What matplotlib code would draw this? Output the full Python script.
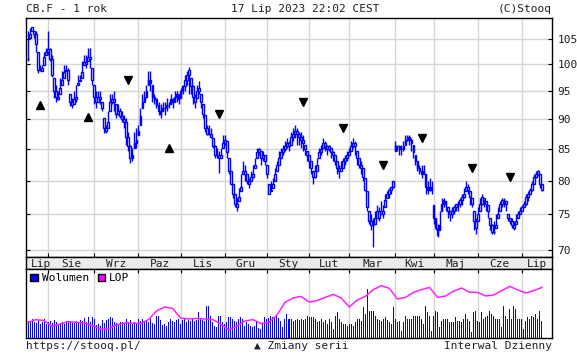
import matplotlib
matplotlib.use("Agg")
import matplotlib.pyplot as plt
import matplotlib.transforms as mtransforms
import numpy as np
import pandas as pd
from matplotlib.patches import Patch
from matplotlib.ticker import FixedLocator, NullLocator

# %%

# trading days shown on the chart (one year, exchange holidays removed)
holidays = ["2022-12-26", "2023-01-02", "2023-04-07", "2023-05-01"]
dates = pd.bdate_range("2022-07-18", "2023-07-17")
dates = dates[~dates.isin(pd.to_datetime(holidays))]

# daily closes
closes = [
    101, 106, 107.5, 106, 104, 99, 99, 98.8, 101.5, 102.5,
    103, 101, 98, 95, 94, 93.5, 95.5, 97, 98.5, 99,
    97, 93, 92.5, 93.5, 94, 96.5, 97, 98.5, 100.5, 100,
    101.5, 101, 97, 94, 93, 94, 93.5, 92, 88.5, 88,
    89.5, 93, 93.5, 93, 91, 91.5, 90.5, 90, 89.5, 87,
    85.5, 83.5, 84, 86, 86.5, 88, 90.5, 93, 94, 95,
    97, 96.5, 94, 93.5, 92.5, 91.5, 91, 92, 92, 92.5,
    92.5, 93.5, 93, 94, 94.5, 93.5, 95, 96, 97, 98,
    99, 96, 94, 93, 95, 95.5, 93, 91, 88.5, 87.5,
    87.5, 87, 85.5, 84, 84, 83.5, 84, 86, 86.5, 84.5,
    81.5, 79.5, 78, 76.5, 76, 77.5, 79, 81.5, 81, 80,
    79.5, 80.5, 81, 82.5, 84.5, 85, 83.5, 84, 83, 81,
    78, 78.5, 79.5, 81, 82.5, 83.5, 84.5, 85, 85.5, 86,
    85.5, 87, 87.5, 88, 87.5, 87, 86.5, 86, 85, 84,
    83, 82, 80.5, 81.5, 82.5, 84.5, 85, 86, 85.5, 85,
    85.5, 84.5, 84, 83, 82, 81.5, 82, 83, 83.5, 84,
    84.5, 85.5, 86, 85.5, 83.5, 82.5, 82, 80.5, 78.5, 76,
    74, 73.5, 73.5, 74.5, 75.5, 74.5, 75.5, 75, 77, 78,
    78.5, 79, 80, 85.5, 85.5, 85, 85, 85.5, 86.5, 87,
    86.5, 86, 84.5, 83, 82, 81.5, 81, 81.5, 79, 78.5,
    79, 78.5, 74.5, 73, 72, 73.5, 76.5, 77, 76.5, 75.5,
    75, 75.5, 76, 76.5, 76.5, 77, 77.5, 78, 79, 78.5,
    77.5, 76.5, 74, 73, 75, 76.5, 77.5, 77, 76.5, 75.5,
    73.5, 72.5, 72.5, 73.5, 75, 76.5, 77, 77, 76.5, 74.5,
    74, 73.5, 73, 74, 75, 75.5, 76, 76.5, 77.5, 78,
    78.5, 79.5, 80.5, 81, 81.5, 79.5, 78.5,
]

# daily highs and lows
highs = [
    106.6, 107.2, 107.5, 106.6, 106.6, 102.5, 99.9, 99.9, 102.5, 103.2,
    106.6, 103.2, 101.9, 97.4, 96.2, 95.0, 97.4, 98.7, 99.9, 99.9,
    99.3, 94.4, 93.7, 95.0, 96.2, 98.0, 98.0, 100.6, 101.9, 101.9,
    103.2, 103.2, 99.3, 96.2, 95.0, 95.0, 95.0, 93.1, 90.2, 89.1,
    91.4, 94.4, 94.4, 95.0, 92.6, 92.6, 92.0, 91.4, 90.8, 90.2,
    87.9, 85.7, 85.2, 87.9, 88.5, 89.1, 92.0, 94.4, 95.0, 96.2,
    98.7, 98.7, 96.2, 94.4, 93.7, 93.1, 92.6, 93.1, 93.1, 93.7,
    93.1, 94.4, 93.7, 95.0, 95.0, 94.4, 95.6, 96.2, 98.0, 98.7,
    99.6, 97.4, 96.2, 94.4, 96.2, 96.8, 94.4, 92.6, 90.8, 89.1,
    89.1, 88.5, 86.8, 85.7, 85.2, 84.6, 85.2, 87.4, 87.4, 86.3,
    83.6, 81.5, 79.4, 77.9, 77.4, 78.9, 81.0, 83.0, 82.5, 81.0,
    80.4, 81.5, 82.5, 83.6, 85.2, 85.2, 84.6, 84.6, 84.1, 82.5,
    79.4, 79.9, 80.4, 82.0, 83.0, 84.6, 85.2, 85.7, 86.3, 86.8,
    86.3, 87.9, 88.5, 89.1, 88.5, 87.9, 87.9, 87.4, 85.7, 84.6,
    84.1, 83.0, 81.5, 82.5, 83.6, 85.2, 85.7, 86.8, 86.3, 85.7,
    85.7, 85.2, 84.6, 84.1, 83.0, 82.5, 83.0, 83.6, 84.1, 84.6,
    85.2, 86.3, 86.8, 86.3, 84.6, 83.6, 83.0, 82.0, 80.4, 78.4,
    75.5, 75.0, 74.5, 75.5, 76.4, 76.0, 76.9, 76.4, 77.9, 78.4,
    78.9, 78.9, 79.9, 86.3, 85.7, 85.7, 85.7, 86.3, 87.4, 87.4,
    87.4, 86.8, 85.7, 84.1, 83.0, 82.5, 82.5, 82.5, 81.0, 79.9,
    80.4, 79.9, 76.4, 74.5, 73.6, 75.5, 77.4, 77.4, 76.9, 76.0,
    75.5, 76.0, 76.4, 76.4, 76.9, 77.4, 77.9, 78.9, 79.9, 79.4,
    78.4, 77.4, 75.5, 74.5, 76.0, 77.4, 77.9, 77.4, 76.9, 76.4,
    74.5, 73.6, 74.0, 75.0, 76.0, 76.9, 77.4, 77.4, 76.9, 75.0,
    74.5, 74.5, 74.0, 75.0, 75.5, 76.0, 76.4, 76.9, 77.9, 78.4,
    78.9, 79.9, 81.0, 81.5, 81.7, 81.0, 79.4,
]
lows = [
    100.6, 105.2, 106.6, 105.2, 102.5, 98.3, 98.7, 99.3, 99.9, 101.9,
    101.9, 100.6, 97.7, 93.7, 93.1, 93.4, 94.4, 96.2, 97.4, 98.7,
    96.2, 92.3, 92.0, 92.6, 93.1, 96.2, 96.8, 97.4, 99.9, 99.3,
    100.6, 99.3, 96.2, 92.6, 92.0, 93.1, 92.6, 91.4, 87.6, 87.6,
    88.5, 91.4, 92.6, 91.4, 90.2, 90.8, 90.2, 89.6, 88.5, 85.7,
    84.6, 82.8, 83.0, 85.2, 85.2, 87.4, 89.1, 92.0, 93.1, 93.7,
    96.2, 95.0, 93.1, 92.6, 92.0, 90.8, 90.2, 91.4, 90.8, 91.4,
    92.0, 92.6, 92.0, 93.1, 93.1, 92.6, 93.7, 94.4, 95.0, 96.2,
    94.4, 94.4, 92.6, 92.0, 93.7, 94.4, 92.0, 90.2, 87.9, 87.4,
    87.4, 86.8, 85.2, 83.6, 83.6, 81.1, 83.6, 85.2, 85.7, 83.6,
    81.0, 79.4, 77.4, 76.0, 75.5, 76.9, 78.4, 81.0, 79.9, 79.4,
    78.9, 79.9, 80.4, 82.0, 83.6, 84.1, 82.5, 83.0, 82.5, 80.4,
    77.9, 78.4, 78.9, 79.9, 81.5, 82.5, 83.6, 84.1, 84.6, 85.2,
    84.6, 85.7, 86.3, 86.8, 85.7, 85.7, 85.2, 84.6, 84.1, 83.0,
    82.0, 81.0, 79.4, 80.4, 81.5, 83.6, 84.1, 85.2, 84.6, 84.1,
    84.6, 83.6, 83.0, 82.5, 81.0, 80.4, 81.5, 82.0, 82.5, 83.0,
    84.1, 84.6, 85.2, 84.1, 82.5, 82.0, 81.0, 79.9, 78.4, 75.5,
    73.6, 72.7, 70.4, 73.6, 74.5, 74.0, 75.0, 74.5, 76.0, 77.4,
    77.4, 77.9, 78.9, 84.6, 84.6, 84.1, 84.1, 84.6, 85.7, 86.3,
    85.7, 84.6, 83.6, 82.5, 81.5, 81.0, 80.4, 81.0, 77.9, 77.9,
    78.4, 77.9, 73.6, 72.7, 71.8, 72.7, 75.5, 76.0, 75.5, 74.5,
    74.0, 74.5, 75.0, 75.5, 75.5, 76.0, 76.4, 77.4, 78.4, 77.9,
    76.4, 76.0, 72.7, 72.2, 74.0, 75.5, 76.4, 76.0, 75.5, 74.5,
    72.7, 72.2, 72.2, 73.1, 74.5, 75.5, 76.0, 76.0, 75.5, 74.0,
    73.6, 73.1, 72.7, 73.6, 74.5, 75.0, 75.5, 76.0, 76.4, 76.9,
    77.9, 78.4, 79.4, 80.4, 80.7, 78.9, 78.4,
]

# daily volume (arbitrary units, same scale as open interest below)
volume = [
    85, 78, 95, 80, 75, 90, 72, 80, 95, 70,
    78, 86, 74, 90, 82, 68, 75, 80, 72, 84,
    78, 82, 74, 80, 86, 78, 92, 85, 100, 82,
    104, 80, 103, 95, 66, 70, 62, 92, 75, 88,
    96, 104, 102, 80, 75, 70, 78, 82, 74, 95,
    78, 90, 72, 80, 70, 96, 86, 95, 78, 84,
    80, 95, 75, 70, 110, 112, 90, 66, 72, 62,
    78, 96, 86, 80, 90, 95, 70, 88, 96, 82,
    90, 84, 100, 85, 90, 128, 95, 92, 85, 162,
    160, 112, 80, 58, 53, 112, 112, 78, 70, 78,
    103, 103, 95, 87, 78, 95, 103, 95, 62, 78,
    70, 60, 55, 62, 78, 50, 45, 70, 103, 95,
    100, 112, 103, 103, 112, 100, 87, 53, 95, 120,
    95, 95, 87, 92, 95, 88, 95, 90, 95, 112,
    103, 105, 103, 95, 78, 87, 95, 80, 90, 70,
    95, 78, 45, 112, 128, 95, 78, 70, 70, 62,
    70, 70, 62, 78, 95, 95, 87, 153, 120, 245,
    137, 137, 137, 112, 95, 90, 87, 95, 103, 90,
    78, 70, 153, 95, 80, 87, 37, 78, 112, 95,
    95, 95, 112, 112, 112, 112, 95, 70, 162, 128,
    112, 37, 112, 137, 132, 53, 87, 95, 95, 95,
    78, 78, 78, 103, 87, 87, 78, 95, 120, 95,
    87, 28, 128, 137, 87, 78, 128, 95, 103, 112,
    137, 120, 112, 95, 95, 95, 53, 162, 112, 95,
    145, 95, 162, 145, 95, 95, 95, 45, 87, 103,
    95, 112, 103, 120, 95, 137, 87,
]

# open interest (LOP), read every 4th trading day
lop_step = 4
lop = [
    78, 92, 87, 58, 70, 82, 78, 75, 62, 45,
    45, 65, 75, 75, 72, 92, 135, 155, 148, 100,
    95, 98, 95, 92, 70, 40, 60, 85, 92, 72,
    78, 115, 178, 200, 208, 180, 187, 203, 218, 200,
    155, 190, 208, 242, 262, 248, 195, 203, 228, 242,
    253, 203, 210, 235, 250, 228, 228, 210, 215, 237,
    258, 240, 225, 237, 253,
]

# contract roll markers ("Zmiany serii"): trading day, price level, direction
roll_days = [6, 30, 50, 70, 95, 137, 157, 177, 196, 221, 240]
roll_prices = [92.5, 90.4, 97, 85.2, 91, 93, 88.5, 82.5, 86.9, 82, 80.5]
roll_up = [True, True, False, True, False, False, False, False, False, False, False]

price_ticks = [70, 75, 80, 85, 90, 95, 100, 105]
month_names = {1: "Sty", 2: "Lut", 3: "Mar", 4: "Kwi", 5: "Maj", 6: "Cze",
               7: "Lip", 8: "Sie", 9: "Wrz", 10: "Paz", 11: "Lis", 12: "Gru"}

# %%

plt.rcParams["font.family"] = ["DejaVu Sans Mono", "DejaVu Sans"]
plt.rcParams["font.size"] = 8

blue = "#0000ff"
magenta = "#ff22ff"
grid_color = "#d4d4d4"
text_color = "#202020"

W, H = 577, 357  # pixels


def box(left, top, right, bottom):
    # pixel box -> figure fraction rect
    return [left / W, 1 - bottom / H, (right - left) / W, (bottom - top) / H]


fig = plt.figure(figsize=(W / 100, H / 100), dpi=100)
ax = fig.add_axes(box(26, 18, 552, 257))
strip = fig.add_axes(box(26, 257, 552, 269), sharex=ax)
axv = fig.add_axes(box(26, 269, 552, 338), sharex=ax)

n = len(closes)
days = np.arange(n)
dates = dates[:n]

# first trading day of each month -> grid lines
month_start = [i for i in range(1, n) if dates[i].month != dates[i - 1].month]

# candles: open = previous close kept inside the day's range, hollow bodies
c = np.array(closes, dtype=float)
h = np.array(highs, dtype=float)
l = np.array(lows, dtype=float)
o = np.clip(np.r_[c[0], c[:-1]], l, h)
lo = np.minimum(o, c)
hi = np.maximum(o, c)
ax.vlines(days, np.minimum(l, lo), np.maximum(h, hi), color=blue,
          linewidth=1.0, zorder=3)
ax.bar(days, hi - lo, bottom=lo, width=0.9, facecolor="white",
       edgecolor=blue, linewidth=1.0, zorder=4)

# roll markers
for d, p, up in zip(roll_days, roll_prices, roll_up):
    ax.plot(d, p, marker="^" if up else "v", color="black", markersize=6,
            linestyle="none", zorder=5)

ax.set_yscale("log")
ax.set_ylim(69.07, 109.35)
ax.set_xlim(-1, 261)
ax.yaxis.set_major_locator(FixedLocator(price_ticks))
ax.yaxis.set_minor_locator(NullLocator())
ax.set_yticklabels([str(t) for t in price_ticks])
ax.set_xticks(month_start)
ax.tick_params(axis="y", which="both", left=True, right=True, labelleft=False,
               labelright=True, direction="in", length=3, pad=4,
               labelsize=8, labelcolor=text_color)
ax.tick_params(axis="x", bottom=True, top=False, labelbottom=False,
               direction="in", length=3)
ax.grid(True, color=grid_color, linewidth=1.0)
ax.set_axisbelow(True)

# month strip between the panels
strip.set_facecolor("#ebebeb")
strip.tick_params(left=False, bottom=False, labelleft=False, labelbottom=False)
strip.set_yticks([])
trans = mtransforms.blended_transform_factory(strip.transData, strip.transAxes)
edges = [-1] + month_start + [261]
for k in range(len(edges) - 1):
    name = month_names[dates[max(edges[k], 0)].month]
    if k == 0:
        strip.text(edges[k] + 2.5, 0.45, name, transform=trans, ha="left",
                   va="center", color=text_color)
    else:
        mid = (edges[k] + edges[k + 1]) / 2
        strip.text(mid, 0.45, name, transform=trans, ha="center",
                   va="center", color=text_color)

# volume + open interest panel
axv.bar(days, volume, width=0.5, color=blue, antialiased=False, zorder=3)
axv.plot(np.arange(len(lop)) * lop_step, lop, color=magenta, linewidth=1.1,
         zorder=4)
axv.set_ylim(0, 345)
axv.set_yticks([])
axv.set_xticks(month_start)
axv.tick_params(axis="x", top=True, bottom=False, labelbottom=False,
                direction="in", length=3)
axv.grid(True, axis="x", color=grid_color, linewidth=1.0)
axv.set_axisbelow(True)
axv.legend(
    handles=[Patch(facecolor=blue, edgecolor="black", label="Wolumen"),
             Patch(facecolor="#ff00ff", edgecolor="black", label="LOP")],
    loc="upper left", ncol=2, frameon=False, fontsize=8,
    handlelength=0.7, handleheight=0.7, handletextpad=0.3,
    columnspacing=0.8, borderaxespad=0.1, borderpad=0.3,
)

for a in (ax, strip, axv):
    for s in a.spines.values():
        s.set_linewidth(1.0)
        s.set_color("black")

# header and footer texts
fig.text(26 / W, 1 - 9 / H, "CB.F - 1 rok", ha="left", va="center",
         color=text_color)
fig.text(305 / W, 1 - 9 / H, "17 Lip 2023 22:02 CEST", ha="center",
         va="center", color=text_color)
fig.text(552 / W, 1 - 9 / H, "(C)Stooq", ha="right", va="center",
         color=text_color)
fig.text(26 / W, 1 - 346 / H, "https://stooq.pl/", ha="left", va="center",
         color=text_color)
fig.text(301 / W, 1 - 346 / H, "\u25b2 Zmiany serii", ha="center",
         va="center", color=text_color)
fig.text(552 / W, 1 - 346 / H, "Interwal Dzienny", ha="right", va="center",
         color=text_color)

fig.savefig("out.png", dpi=100)
